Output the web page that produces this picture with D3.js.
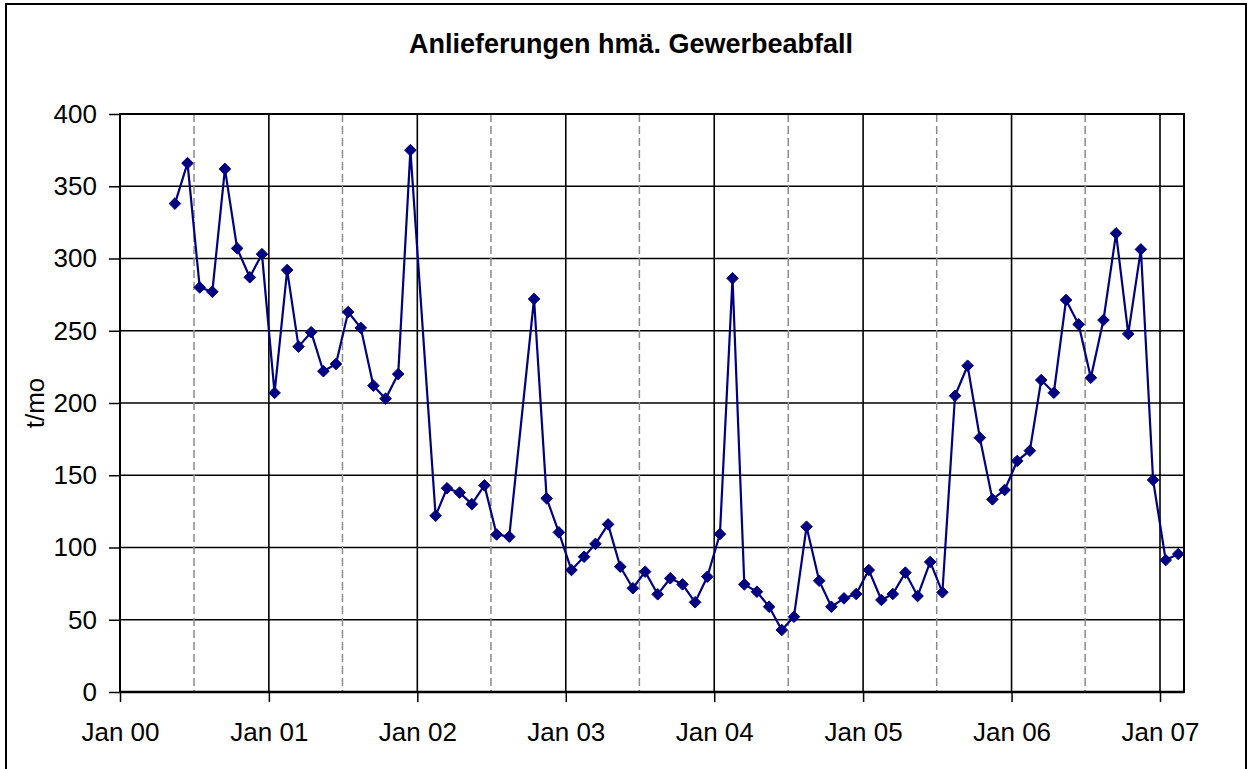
<!DOCTYPE html>
<html><head><meta charset="utf-8">
<script src="https://cdn.jsdelivr.net/npm/d3@7"></script>
<style>body{margin:0;background:#fff}svg{display:block}text{font-family:Arial,"Liberation Sans",sans-serif;fill:#000}</style>
</head><body>
<svg id="c" width="1249" height="769"></svg>
<script>
// Monthly deliveries (t/mo), one value per month from May 2000 to Feb 2007; null = no value
const months = [
 "2000-05","2000-06","2000-07","2000-08","2000-09","2000-10","2000-11","2000-12",
 "2001-01","2001-02","2001-03","2001-04","2001-05","2001-06","2001-07","2001-08","2001-09","2001-10","2001-11","2001-12",
 "2002-01","2002-02","2002-03","2002-04","2002-05","2002-06","2002-07","2002-08","2002-09","2002-10","2002-11","2002-12",
 "2003-01","2003-02","2003-03","2003-04","2003-05","2003-06","2003-07","2003-08","2003-09","2003-10","2003-11","2003-12",
 "2004-01","2004-02","2004-03","2004-04","2004-05","2004-06","2004-07","2004-08","2004-09","2004-10","2004-11","2004-12",
 "2005-01","2005-02","2005-03","2005-04","2005-05","2005-06","2005-07","2005-08","2005-09","2005-10","2005-11","2005-12",
 "2006-01","2006-02","2006-03","2006-04","2006-05","2006-06","2006-07","2006-08","2006-09","2006-10","2006-11","2006-12",
 "2007-01","2007-02"
];
const tonnes = [
 338, 366, 280, 277, 362, 307, 287, 303,
 207, 292, 239, 249, 222, 227, 263, 252, 212, 203, 220, 375,
 null, 122, 141, 138, 130, 143, 109, 107.5, null, 272, 134, 110.5,
 84.4, 93.6, 102.5, 116, 86.7, 71.8, 83.3, 67.6, 78.7, 74.5, 62.1, 79.8,
 109.3, 286.3, 74.5, 69.4, 59, 42.9, 52.1, 114.4, 77, 59, 64.8, 67.8,
 84.4, 63.7, 67.8, 82.6, 66.4, 90, 69, 205, 225.8, 176, 133.3, 139.8,
 159.9, 167, 215.9, 207.1, 271.3, 254.4, 217.5, 257.4, 317.4, 247.8, 306.3, 146.7,
 91.3, 95.5
];
const xTickLabels = ["Jan 00","Jan 01","Jan 02","Jan 03","Jan 04","Jan 05","Jan 06","Jan 07"];
const yTickValues = [0, 50, 100, 150, 200, 250, 300, 350, 400];
const chartTitle = "Anlieferungen hmä. Gewerbeabfall";
const yAxisTitle = "t/mo";

const svg = d3.select("#c");
const L = 120, T = 114, R = 1184, B = 692;

// outer chart border
svg.append("rect").attr("x", 6).attr("y", 4).attr("width", 1240).attr("height", 790)
  .attr("fill", "#fff").attr("stroke", "#000").attr("stroke-width", 2);

const parseMonth = d3.timeParse("%Y-%m");
const x = d3.scaleTime().domain([new Date(2000, 0, 1), new Date(2007, 2, 1)]).range([L, R]);
const y = d3.scaleLinear().domain([0, 400]).range([B, T]);

const data = months.map((m, i) => {
  const d = parseMonth(m); d.setDate(15);
  return {date: d, v: tonnes[i]};
}).filter(d => d.v !== null);

const yearDates = xTickLabels.map((s, i) => new Date(2000 + i, 0, 1));
const midYearDates = d3.range(2000, 2007).map(yr => new Date(yr, 6, 1));

// grid
const g = svg.append("g");
g.selectAll(".hg").data(yTickValues.filter(v => v > 0 && v < 400)).join("line")
  .attr("x1", L).attr("x2", R).attr("y1", d => y(d)).attr("y2", d => y(d))
  .attr("stroke", "#000").attr("stroke-width", 1.6);
g.selectAll(".mg").data(midYearDates).join("line")
  .attr("x1", d => x(d)).attr("x2", d => x(d)).attr("y1", T).attr("y2", B)
  .attr("stroke", "#8c8c8c").attr("stroke-width", 1.5).attr("stroke-dasharray", "8,4");
g.selectAll(".vg").data(yearDates.slice(1)).join("line")
  .attr("x1", d => x(d)).attr("x2", d => x(d)).attr("y1", T).attr("y2", B)
  .attr("stroke", "#000").attr("stroke-width", 1.6);

// plot border
svg.append("rect").attr("x", L).attr("y", T).attr("width", R - L).attr("height", B - T)
  .attr("fill", "none").attr("stroke", "#000").attr("stroke-width", 2);

// axes
const yAxis = svg.append("g").attr("transform", `translate(${L},0)`)
  .call(d3.axisLeft(y).tickValues(yTickValues).tickSize(11).tickPadding(12));
const xAxis = svg.append("g").attr("transform", `translate(0,${B})`)
  .call(d3.axisBottom(x).tickValues(yearDates).tickFormat((d, i) => xTickLabels[i]).tickSize(10).tickPadding(21));
[yAxis, xAxis].forEach(a => {
  a.select(".domain").remove();
  a.selectAll(".tick line").attr("stroke", "#000").attr("stroke-width", 1.5);
  a.selectAll("text").attr("font-size", 26).attr("font-family", "Arial, 'Liberation Sans', sans-serif").attr("fill", "#000");
});
svg.append("line").attr("x1", L).attr("x2", R).attr("y1", B).attr("y2", B).attr("stroke", "#000").attr("stroke-width", 2.5);

// series line
svg.append("path").datum(data)
  .attr("d", d3.line().x(d => x(d.date)).y(d => y(d.v)))
  .attr("fill", "none").attr("stroke", "#000080").attr("stroke-width", 2.2).attr("stroke-linejoin", "round");

// diamond markers
svg.append("g").selectAll("path").data(data).join("path")
  .attr("transform", d => `translate(${x(d.date)},${y(d.v)})`)
  .attr("d", "M0,-5.8L5.8,0L0,5.8L-5.8,0Z")
  .attr("fill", "#000080").attr("stroke", "#000080").attr("stroke-width", 1);

// titles
svg.append("text").attr("x", 631).attr("y", 53).attr("text-anchor", "middle")
  .attr("font-size", 27).attr("font-weight", "bold").text(chartTitle);
svg.append("text").attr("transform", "translate(44,403) rotate(-90)").attr("text-anchor", "middle")
  .attr("font-size", 26).text(yAxisTitle);
</script>
</body></html>
